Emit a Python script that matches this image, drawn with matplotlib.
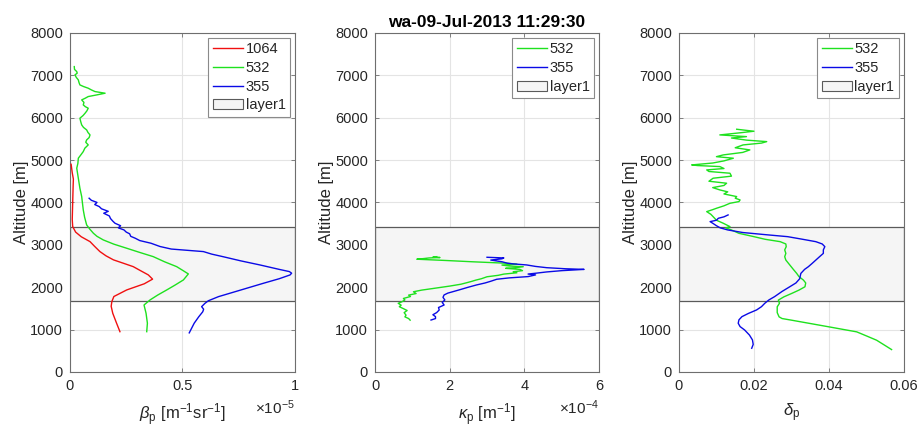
import matplotlib
matplotlib.use("Agg")
import matplotlib.pyplot as plt
from matplotlib.patches import Patch

plt.rcParams["font.family"] = ["Liberation Sans", "DejaVu Sans"]
plt.rcParams["mathtext.fontset"] = "custom"
plt.rcParams["mathtext.rm"] = "Liberation Sans"
plt.rcParams["mathtext.it"] = "Liberation Sans:italic"

title = "wa-09-Jul-2013 11:29:30"
layer_bottom, layer_top = 1670, 3430

# panel 1: particle backscatter, x in units of 1e-5 m^-1 sr^-1
alt_b1064 = [950, 1150, 1385, 1550, 1660, 1780, 1935, 2080, 2190, 2290, 2400, 2485, 2560,
             2645, 2740, 2840, 2960, 3075, 3190, 3300, 3430, 3600, 3800, 4000, 4200, 4400,
             4550, 4700, 4900]
beta_1064 = [0.222, 0.207, 0.190, 0.183, 0.186, 0.195, 0.252, 0.330, 0.367, 0.348, 0.310,
             0.281, 0.240, 0.193, 0.160, 0.133, 0.110, 0.089, 0.050, 0.025, 0.012, 0.010,
             0.011, 0.012, 0.013, 0.014, 0.015, 0.010, 0.005]

alt_b532 = [950, 1150, 1385, 1580, 1700, 1815, 1935, 2050, 2171, 2313, 2400, 2485, 2600,
            2721, 2820, 2919, 3015, 3115, 3200, 3273, 3370, 3469, 3650, 3823, 4000, 4138,
            4335, 4571, 4807, 4920, 5043, 5120, 5200, 5280, 5357, 5420, 5475, 5530, 5593,
            5650, 5711, 5770, 5829, 5900, 5987, 6050, 6105, 6160, 6223, 6260, 6301, 6360,
            6419, 6460, 6498, 6537, 6577, 6616, 6655, 6695, 6735, 6773, 6830, 6891, 6950,
            7009, 7050, 7087, 7140, 7205]
beta_532 = [0.341, 0.344, 0.338, 0.329, 0.356, 0.390, 0.430, 0.467, 0.504, 0.526, 0.500,
            0.474, 0.420, 0.370, 0.310, 0.252, 0.195, 0.148, 0.120, 0.104, 0.088, 0.074,
            0.065, 0.059, 0.055, 0.052, 0.044, 0.037, 0.030, 0.035, 0.037, 0.048, 0.059,
            0.066, 0.081, 0.070, 0.074, 0.085, 0.089, 0.080, 0.074, 0.060, 0.052, 0.048,
            0.044, 0.058, 0.067, 0.075, 0.081, 0.068, 0.059, 0.062, 0.052, 0.068, 0.081,
            0.119, 0.156, 0.111, 0.095, 0.081, 0.060, 0.044, 0.040, 0.037, 0.028, 0.022,
            0.032, 0.030, 0.020, 0.019]

alt_b355 = [922, 1150, 1300, 1420, 1480, 1541, 1620, 1680, 1777, 1935, 2093, 2200, 2289,
            2330, 2368, 2420, 2525, 2620, 2720, 2780, 2840, 2900, 2960, 3037, 3100, 3155,
            3200, 3260, 3300, 3351, 3400, 3450, 3509, 3560, 3620, 3680, 3745, 3790, 3850,
            3902, 3950, 4000, 4050, 4099]
beta_355 = [0.530, 0.552, 0.572, 0.590, 0.594, 0.585, 0.600, 0.615, 0.660, 0.760, 0.860,
            0.930, 0.978, 0.985, 0.975, 0.930, 0.844, 0.760, 0.680, 0.630, 0.593, 0.450,
            0.400, 0.360, 0.310, 0.290, 0.270, 0.265, 0.250, 0.240, 0.215, 0.225, 0.200,
            0.190, 0.180, 0.175, 0.150, 0.170, 0.140, 0.130, 0.110, 0.120, 0.095, 0.085]

# panel 2: particle extinction, x in units of 1e-4 m^-1
alt_k532 = [1222, 1260, 1300, 1340, 1400, 1450, 1498, 1540, 1576, 1620, 1655, 1700, 1734,
            1780, 1813, 1850, 1892, 1931, 1970, 2026, 2070, 2104, 2140, 2167, 2200, 2246,
            2280, 2309, 2340, 2364, 2390, 2420, 2445, 2459, 2483, 2500, 2522, 2545, 2565,
            2600, 2630, 2660, 2675, 2690, 2700, 2710, 2720]
kappa_532 = [0.94, 0.90, 0.80, 0.83, 0.78, 0.86, 0.75, 0.65, 0.70, 0.62, 0.72, 0.80, 0.76,
             0.95, 0.90, 1.10, 1.03, 1.25, 1.56, 2.00, 2.30, 2.45, 2.60, 2.70, 2.85, 3.00,
             3.30, 3.45, 3.80, 3.70, 3.95, 3.88, 3.50, 3.75, 3.97, 3.60, 3.40, 3.80, 3.53,
             2.60, 1.90, 1.12, 1.30, 1.45, 1.74, 1.55, 1.65]

alt_k355 = [1225, 1260, 1305, 1350, 1400, 1463, 1520, 1580, 1640, 1699, 1760, 1817, 1860,
            1935, 2000, 2053, 2100, 2140, 2187, 2220, 2250, 2290, 2310, 2329, 2360, 2390,
            2410, 2420, 2435, 2460, 2490, 2525, 2550, 2565, 2600, 2640, 2670, 2690, 2706]
kappa_355 = [1.50, 1.62, 1.62, 1.55, 1.65, 1.72, 1.70, 1.85, 1.80, 1.87, 1.82, 1.85, 1.95,
             2.25, 2.50, 2.72, 2.95, 3.10, 3.26, 3.60, 4.10, 4.30, 4.10, 4.30, 4.60, 5.00,
             5.40, 5.60, 5.10, 4.60, 4.30, 4.06, 3.70, 3.55, 3.40, 3.10, 3.40, 3.45, 3.00]

# panel 3: particle depolarisation ratio
alt_d532 = [528, 650, 749, 850, 946, 1000, 1064, 1143, 1222, 1260, 1300, 1400, 1537, 1620,
            1695, 1773, 1850, 1931, 2010, 2100, 2167, 2250, 2325, 2420, 2530, 2640, 2720,
            2798, 2880, 2956, 3020, 3074, 3130, 3192, 3271, 3350, 3400, 3429, 3509, 3580,
            3665, 3720, 3783, 3830, 3862, 3920, 3980, 4020, 4059, 4100, 4138, 4200, 4250,
            4295, 4350, 4400, 4453, 4500, 4571, 4620, 4689, 4730, 4767, 4800, 4846, 4870,
            4885, 4930, 4980, 5043, 5080, 5121, 5180, 5239, 5290, 5357, 5400, 5435, 5470,
            5520, 5553, 5593, 5640, 5680, 5700, 5727]
delta_532 = [0.0567, 0.0545, 0.0527, 0.0500, 0.0474, 0.0440, 0.0400, 0.0350, 0.0300,
             0.0275, 0.0267, 0.0262, 0.0262, 0.0268, 0.0265, 0.0280, 0.0300, 0.0320,
             0.0336, 0.0338, 0.0332, 0.0320, 0.0314, 0.0305, 0.0295, 0.0285, 0.0282,
             0.0285, 0.0282, 0.0286, 0.0285, 0.0270, 0.0230, 0.0200, 0.0160, 0.0140,
             0.0125, 0.0136, 0.0118, 0.0100, 0.0091, 0.0085, 0.0074, 0.0090, 0.0100,
             0.0120, 0.0136, 0.0160, 0.0163, 0.0150, 0.0154, 0.0120, 0.0130, 0.0109,
             0.0090, 0.0120, 0.0127, 0.0080, 0.0091, 0.0140, 0.0136, 0.0080, 0.0074,
             0.0120, 0.0109, 0.0050, 0.0034, 0.0090, 0.0120, 0.0145, 0.0100, 0.0118,
             0.0170, 0.0189, 0.0150, 0.0171, 0.0220, 0.0234, 0.0180, 0.0140, 0.0180,
             0.0109, 0.0160, 0.0200, 0.0180, 0.0154]

alt_d355 = [559, 650, 755, 870, 991, 1070, 1149, 1230, 1305, 1380, 1463, 1540, 1621, 1700,
            1777, 1900, 2013, 2100, 2200, 2325, 2420, 2483, 2560, 2640, 2720, 2798, 2880,
            2956, 3020, 3074, 3130, 3192, 3240, 3290, 3351, 3400, 3450, 3509, 3547, 3580,
            3626, 3660, 3705]
delta_355 = [0.0194, 0.0198, 0.0196, 0.0188, 0.0175, 0.0163, 0.0158, 0.0160, 0.0168,
             0.0185, 0.0207, 0.0220, 0.0229, 0.0240, 0.0255, 0.0275, 0.0296, 0.0312,
             0.0322, 0.0325, 0.0335, 0.0345, 0.0355, 0.0365, 0.0375, 0.0385, 0.0385,
             0.0389, 0.0382, 0.0365, 0.0330, 0.0290, 0.0230, 0.0170, 0.0130, 0.0110,
             0.0100, 0.0090, 0.0083, 0.0100, 0.0105, 0.0120, 0.0131]

RED, GREEN, BLUE = "#f01010", "#1ee11e", "#0a0ae6"
AX_COL, TXT_COL = "#6e6e6e", "#262626"


def style_axes(ax, xlim, xticks, xticklabels):
    ax.set_xlim(*xlim)
    ax.set_ylim(0, 8000)
    ax.set_xticks(xticks)
    ax.set_xticklabels(xticklabels)
    ax.set_yticks(range(0, 8001, 1000))
    ax.grid(True, color="#e4e4e4", lw=0.8)
    ax.set_axisbelow(True)
    for s in ax.spines.values():
        s.set_color(AX_COL)
        s.set_linewidth(0.8)
    ax.tick_params(direction="in", length=3, width=0.6, color=AX_COL, labelcolor=TXT_COL,
                   labelsize=10.5, top=True, right=True, pad=5)
    ax.set_ylabel("Altitude [m]", fontsize=12, color=TXT_COL, labelpad=1)
    ax.axhspan(layer_bottom, layer_top, facecolor="#f5f5f5", edgecolor="#5a5a5a", lw=0.9,
               zorder=1)


def add_legend(ax, labels, colors):
    handles = [plt.Line2D([], [], color=c, lw=1.0) for c in colors]
    handles.append(Patch(facecolor="#f5f5f5", edgecolor="#5a5a5a", lw=0.8))
    leg = ax.legend(handles, labels + ["layer1"], loc="upper right", fontsize=10.5,
                    fancybox=False, framealpha=1, edgecolor="#8a8a8a", handlelength=2.1,
                    handletextpad=0.15, borderpad=0.3, labelspacing=0.32,
                    borderaxespad=0.35)
    leg.get_frame().set_linewidth(0.8)
    for t in leg.get_texts():
        t.set_color(TXT_COL)


fig = plt.figure(figsize=(9.21, 4.33), dpi=100)
ax1 = fig.add_axes([0.076, 0.141, 0.2443, 0.783])
ax2 = fig.add_axes([0.4072, 0.141, 0.2432, 0.783])
ax3 = fig.add_axes([0.7372, 0.141, 0.2443, 0.783])

style_axes(ax1, (0, 1), [0, 0.5, 1], ["0", "0.5", "1"])
ax1.plot(beta_1064, alt_b1064, color=RED, lw=1.0, zorder=3)
ax1.plot(beta_532, alt_b532, color=GREEN, lw=1.0, zorder=3)
ax1.plot(beta_355, alt_b355, color=BLUE, lw=1.0, zorder=3)
add_legend(ax1, ["1064", "532", "355"], [RED, GREEN, BLUE])
ax1.set_xlabel(r"$\beta_{\mathrm{p}}$ [m$^{-1}$sr$^{-1}$]", fontsize=12, color=TXT_COL,
               labelpad=6)
ax1.text(1.0, -0.105, r"$\times$10$^{-5}$", transform=ax1.transAxes, ha="right",
         va="center", fontsize=11, color=TXT_COL)

style_axes(ax2, (0, 6), [0, 2, 4, 6], ["0", "2", "4", "6"])
ax2.plot(kappa_532, alt_k532, color=GREEN, lw=1.0, zorder=3)
ax2.plot(kappa_355, alt_k355, color=BLUE, lw=1.0, zorder=3)
add_legend(ax2, ["532", "355"], [GREEN, BLUE])
ax2.set_xlabel(r"$\kappa_{\mathrm{p}}$ [m$^{-1}$]", fontsize=12, color=TXT_COL, labelpad=6)
ax2.text(1.0, -0.105, r"$\times$10$^{-4}$", transform=ax2.transAxes, ha="right",
         va="center", fontsize=11, color=TXT_COL)
ax2.set_title(title, fontsize=12.5, fontweight="bold", color="black", pad=4)

style_axes(ax3, (0, 0.06), [0, 0.02, 0.04, 0.06], ["0", "0.02", "0.04", "0.06"])
ax3.plot(delta_532, alt_d532, color=GREEN, lw=1.0, zorder=3)
ax3.plot(delta_355, alt_d355, color=BLUE, lw=1.0, zorder=3)
add_legend(ax3, ["532", "355"], [GREEN, BLUE])
ax3.set_xlabel(r"$\delta_{\mathrm{p}}$", fontsize=12, color=TXT_COL, labelpad=6)

fig.savefig("out.png", dpi=100)
